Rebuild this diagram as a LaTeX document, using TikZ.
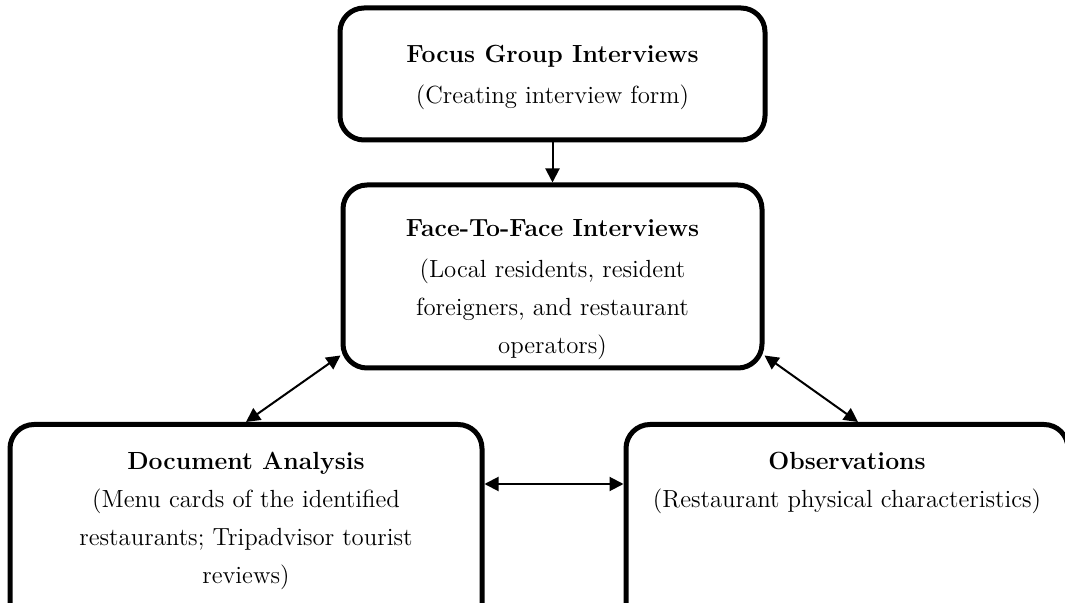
\documentclass[tikz,border=0pt]{standalone}
\usepackage{tikz}
\usetikzlibrary{positioning}
\usetikzlibrary{arrows.meta}
\usetikzlibrary{calc}

\begin{document}
\begin{tikzpicture}[
    x=0.5pt, y=-0.5pt,
    %% ── Node styles ─────────────────────────────────────────────
    stage/.style ={draw=black, line width=2.5pt, rounded corners=12pt,
                                 align=center, fill=white,
                                 font=\fontsize{12.4}{19}\selectfont},
    lowstage/.style={stage, anchor=north, inner xsep=3pt, inner ysep=14pt,
                                 text depth=80pt},
    arr/.style   ={-{Triangle[length=7pt,width=7pt]}, line width=1pt, color=black},
    dbl/.style   ={{Triangle[length=7pt,width=7pt]}-{Triangle[length=7pt,width=7pt]},
                                 line width=1pt, color=black}
]

    \path[use as bounding box, clip] (0,0) rectangle (1065,603);

    %% ── Nodes ──────────────────────────────────────────────────
    \node[stage, minimum width=212.5pt, minimum height=66pt]
        (focus) at (552.5, 74) {\rule{0pt}{12pt}\textbf{Focus Group Interviews}\\[1.5pt]
                                (Creating interview form)};
    \node[stage, minimum width=209.5pt, minimum height=91.5pt]
        (face)  at (552.5, 276.5) {\rule{0pt}{22pt}\textbf{Face-To-Face Interviews}\\[1.5pt]
                                   (Local residents, resident\\
                                   foreigners, and restaurant\\
                                   operators)};
    \node[lowstage, minimum width=236pt]
        (docan) at (246, 422) {\textbf{Document Analysis}\\
                               (Menu cards of the identified\\
                               restaurants; Tripadvisor tourist\\
                               reviews)};
    \node[lowstage, minimum width=221pt]
        (obs)   at (847, 422) {\textbf{Observations}\\
                               (Restaurant physical characteristics)};

    %% ── Arrows ──────────────────────────────────────────────────
    \draw[arr] (focus.south) -- (face.north);
    \draw[dbl] (docan.north) -- ($(face.south west)+(0,7.5pt)$);
    \draw[dbl] ($(face.south east)+(0,7.5pt)$) -- ($(obs.north)+(5.5pt,0)$);
    \draw[dbl] ($(docan.north east)+(0,-31pt)$) -- ($(obs.north west)+(0,-31pt)$);

\end{tikzpicture}
\end{document}
